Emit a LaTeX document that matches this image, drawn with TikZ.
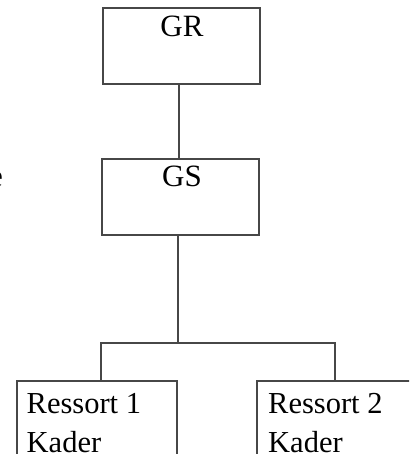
\documentclass[tikz,border=0pt]{standalone}
\usepackage{fontspec}
\setmainfont{Liberation Serif}
\begin{document}
\begin{tikzpicture}[x=1pt,y=-1pt,
  box/.style={draw=black!72,line width=1.3pt,rectangle,inner sep=0pt},
  conn/.style={draw=black!72,line width=1.3pt},
  big/.style={font=\fontsize{31}{36}\selectfont,inner sep=0pt,text=black},
  mid/.style={font=\fontsize{30.5}{40}\selectfont,inner sep=0pt,text=black,align=left}]
\useasboundingbox (0,0) rectangle (409,454);
\clip (0,0) rectangle (409,454);
% boxes
\node[box,minimum width=157pt,minimum height=76pt] (gr) at (181.5,46) {};
\node[box,minimum width=157pt,minimum height=76pt] (gs) at (180.5,197) {};
\node[box,minimum width=160pt,minimum height=100pt] (r1) at (97,431) {};
\node[box,minimum width=170pt,minimum height=100pt] (r2) at (342,431) {};
% texts
\node[big,anchor=base] (grt) at (182,37) {GR};
\node[big,anchor=base] (gst) at (182,186) {GS};
\node[mid,anchor=base west] (r1a) at (26.5,413) {Ressort 1};
\node[mid,anchor=base west] (r1b) at (26.5,452) {Kader};
\node[mid,anchor=base west] (r2a) at (268,413) {Ressort 2};
\node[mid,anchor=base west] (r2b) at (268,452) {Kader};
\node[big,anchor=base east] (frag) at (3,186) {e};
% connectors
\coordinate (j) at (178,343);
\coordinate (jl) at (101,343);
\coordinate (jr) at (335,343);
\draw[conn] (gr.south -| 179,0) -- (gs.north -| 179,0);
\draw[conn] (gs.south -| j) -- (j);
\draw[conn] (r1.north -| jl) -- (jl) -- (jr) -- (r2.north -| jr);
\end{tikzpicture}
\end{document}
